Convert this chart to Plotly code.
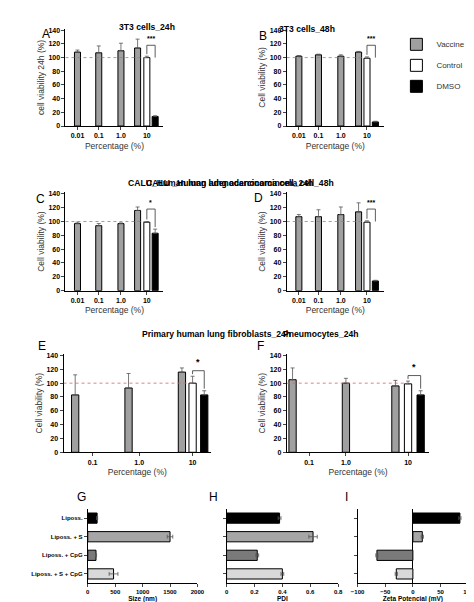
import plotly.graph_objects as go

W, H = 474, 602
FONT = "Liberation Sans"

# ---- viability panels data ----
panels = {
 "A": dict(title="3T3 cells_24h", ytitle="cell viability 24h (%)",
           ticks=["0.01", "0.1", "1.0", "10"],
           vac=[108, 107, 110, 114], vac_err=[3, 10, 11, 13],
           ctl=100, ctl_err=2, dmso=14, dmso_err=1, sig="***"),
 "B": dict(title="3T3 cells_48h", ytitle="Cell viability (%)",
           ticks=["0.01", "0.1", "1.0", "10"],
           vac=[102, 104, 102, 108], vac_err=[1, 1, 2, 1],
           ctl=99, ctl_err=2, dmso=6, dmso_err=1, sig="***"),
 "C": dict(title="CALU_Human lung adenocarcinoma cell_24h", ytitle="Cell viability (%)",
           ticks=["0.01", "0.1", "1.0", "10"],
           vac=[97, 94, 97, 116], vac_err=[2, 3, 1, 5],
           ctl=99, ctl_err=1, dmso=83, dmso_err=6, sig="*"),
 "D": dict(title="CALU _Human lung adenocarcinoma cell_48h", ytitle="Cell viability (%)",
           ticks=["0.01", "0.1", "1.0", "10"],
           vac=[107, 107, 110, 114], vac_err=[3, 10, 11, 13],
           ctl=99, ctl_err=2, dmso=14, dmso_err=1, sig="***"),
 "E": dict(title="Primary human lung fibroblasts_24h", ytitle="Cell viability (%)",
           ticks=["0.1", "1.0", "10"],
           vac=[83, 93, 116], vac_err=[29, 21, 6],
           ctl=100, ctl_err=10, dmso=83, dmso_err=6, sig="*"),
 "F": dict(title="Pneumocytes_24h", ytitle="Cell viability (%)",
           ticks=["0.1", "1.0", "10"],
           vac=[105, 100, 96], vac_err=[17, 7, 8],
           ctl=99, ctl_err=4, dmso=83, dmso_err=6, sig="*"),
}

# ---- characterization data ----
formulations = ["Liposs.", "Liposs. + S", "Liposs. + CpG", "Liposs. + S + CpG"]
size_nm = [170, 1500, 150, 470]
size_err = [10, 50, 10, 80]
pdi = [0.38, 0.62, 0.22, 0.40]
pdi_err = [0.01, 0.03, 0.01, 0.01]
zeta = [85, 17, -65, -30]
zeta_err = [2, 2, 2, 2]
form_colors = ["#000000", "#a6a6a6", "#7a7a7a", "#d9d9d9"]

geom = {
 "A": dict(box=(52, 153, 19, 117), tickpos=[63, 86, 110, 138], vacpos=[63, 86, 110, 128], ctl=138, dm=147, xr=(50, 156)),
 "B": dict(box=(280, 380, 19, 117), tickpos=[291, 312, 336, 364], vacpos=[291, 312, 336, 355], ctl=364, dm=373, xr=(278, 382)),
 "C": dict(box=(52, 153, 184, 283), tickpos=[63, 86, 110, 138], vacpos=[63, 86, 110, 128], ctl=138, dm=147, xr=(50, 156)),
 "D": dict(box=(280, 380, 184, 283), tickpos=[291, 312, 336, 364], vacpos=[291, 312, 336, 355], ctl=364, dm=373, xr=(278, 382)),
 "E": dict(box=(50, 202, 347, 446), tickpos=[80, 128, 183], vacpos=[62, 117, 172], ctl=183, dm=195, xr=(50, 202)),
 "F": dict(box=(280, 427, 347, 446), tickpos=[303, 341, 405], vacpos=[286, 341, 392], ctl=405, dm=418, xr=(280, 427)),
}

fig = go.Figure()
shapes, annos = [], []
def px2x(p): return p / W
def px2y(p): return 1 - p / H

for i, (k, p) in enumerate(panels.items()):
    g = geom[k]
    n = i + 1
    xa, ya = f"x{n}", f"y{n}"
    xl, yl = f"xaxis{n}", f"yaxis{n}"
    x0, x1, yt, yb = g["box"]
    bw = 6.5 if k in "ABCD" else 7.5
    showleg = (k == "B")
    fig.add_trace(go.Bar(x=g["vacpos"], y=p["vac"], width=bw, name="Vaccine", marker=dict(color="#a0a0a0", line=dict(color="black", width=1)),
                         error_y=dict(type="data", array=p["vac_err"], arrayminus=[0]*len(p["vac"]), color="#555", thickness=0.8, width=2),
                         xaxis=xa, yaxis=ya, showlegend=showleg, legendgroup="v"))
    fig.add_trace(go.Bar(x=[g["ctl"]], y=[p["ctl"]], width=bw, name="Control", marker=dict(color="white", line=dict(color="black", width=1)),
                         error_y=dict(type="data", array=[p["ctl_err"]], arrayminus=[0], color="#555", thickness=0.8, width=2),
                         xaxis=xa, yaxis=ya, showlegend=showleg, legendgroup="c"))
    fig.add_trace(go.Bar(x=[g["dm"]], y=[p["dmso"]], width=bw, name="DMSO", marker=dict(color="black", line=dict(color="black", width=1)),
                         error_y=dict(type="data", array=[p["dmso_err"]], arrayminus=[0], color="#555", thickness=0.8, width=2),
                         xaxis=xa, yaxis=ya, showlegend=showleg, legendgroup="d"))
    fig.layout[xl] = dict(domain=[px2x(x0), px2x(x1)], range=list(g["xr"]), tickvals=g["tickpos"], ticktext=p["ticks"],
                          anchor=ya, showline=True, linecolor="black", ticks="outside", ticklen=3, showgrid=False, zeroline=False,
                          tickfont=dict(size=7, family=FONT, color="black", weight="bold"),
                          title=dict(text="Percentage (%)", font=dict(size=8.5, family=FONT, color="#333"), standoff=4))
    fig.layout[yl] = dict(domain=[px2y(yb), px2y(yt)], range=[0, 142], tickvals=[0, 20, 40, 60, 80, 100, 120, 140],
                          anchor=xa, showline=True, linecolor="black", ticks="outside", ticklen=3, showgrid=False, zeroline=False,
                          tickfont=dict(size=7, family=FONT, color="black", weight="bold"),
                          title=dict(text=p["ytitle"], font=dict(size=8.5, family=FONT, color="#333"), standoff=2))
    shapes.append(dict(type="line", xref=xa, yref=ya, x0=g["xr"][0], x1=g["ctl"], y0=100, y1=100,
                       line=dict(color="#e06060", width=0.8, dash="dot")))
    top = max(p["ctl"] + p["ctl_err"], 100) + 8 if k in "EF" else 118
    shapes.append(dict(type="path", xref=xa, yref=ya,
                       path=f"M {g['ctl']},{p['ctl']+p['ctl_err']+3} L {g['ctl']},{top} L {g['dm']},{top} L {g['dm']},{p['dmso']+p['dmso_err']+3 if k in 'CEF' else 100}",
                       line=dict(color="#333", width=0.8)))
    annos.append(dict(xref=xa, yref=ya, x=(g["ctl"] + g["dm"]) / 2, y=top + 2, text=p["sig"], showarrow=False,
                      yanchor="bottom", font=dict(size=9 if k in "EF" else 7, family=FONT, color="black", weight="bold")))
    tx = {"A": 105, "B": 332, "C": 114, "D": 331, "E": 129, "F": 355}[k]
    ty = {"A": 10, "B": 12, "C": 167, "D": 167, "E": 327, "F": 327}[k]
    annos.append(dict(xref="paper", yref="paper", x=px2x(tx), y=px2y(ty), text=p["title"], showarrow=False,
                      font=dict(size=8.6, family=FONT, color="black", weight="bold")))
    lx = {"A": 26, "B": 256, "C": 20, "D": 251, "E": 22, "F": 253}[k]
    ly = {"A": 15, "B": 17, "C": 182, "D": 180, "E": 339, "F": 339}[k]
    annos.append(dict(xref="paper", yref="paper", x=px2x(lx), y=px2y(ly), text=k, showarrow=False,
                      font=dict(size=12, family=FONT, color="black")))

char = [("G", size_nm, size_err, (75, 188), [0, 2000], [0, 500, 1000, 1500, 2000], "Size (nm)", True),
        ("H", pdi, pdi_err, (218, 333), [0, 0.8], [0, 0.2, 0.4, 0.6, 0.8], "PDI", False),
        ("I", zeta, zeta_err, (353, 467), [-100, 100], [-100, -50, 0, 50, 100], "Zeta Potencial (mV)", False)]
for j, (k, vals, errs, (x0, x1), xr, xt, xtitle, showcat) in enumerate(char):
    n = 7 + j
    xa, ya = f"x{n}", f"y{n}"
    fig.add_trace(go.Bar(y=formulations, x=vals, orientation="h", width=0.55,
                         marker=dict(color=form_colors, line=dict(color="black", width=1)),
                         error_x=dict(type="data", array=errs, color="#555", thickness=0.8, width=2),
                         xaxis=xa, yaxis=ya, showlegend=False))
    fig.layout[f"xaxis{n}"] = dict(domain=[px2x(x0), px2x(x1)], range=xr, tickvals=xt, anchor=ya,
                                   showline=True, linecolor="black", ticks="outside", ticklen=3, showgrid=False,
                                   zeroline=(k == "I"), zerolinecolor="black", zerolinewidth=1,
                                   tickfont=dict(size=6, family=FONT, color="black", weight="bold"),
                                   title=dict(text=xtitle, font=dict(size=6.5, family=FONT, color="black", weight="bold"), standoff=2))
    fig.layout[f"yaxis{n}"] = dict(domain=[px2y(578), px2y(503)], categoryorder="array", categoryarray=formulations[::-1],
                                   anchor=xa, showline=True, linecolor="black", ticks="outside", ticklen=3,
                                   showticklabels=showcat, showgrid=False, zeroline=False,
                                   tickfont=dict(size=6, family=FONT, color="black", weight="bold"))
    annos.append(dict(xref="paper", yref="paper", x=px2x({"G": 62, "H": 205, "I": 345}[k]), y=px2y(500), text=k,
                      showarrow=False, font=dict(size=12, family=FONT, color="black")))

fig.update_layout(width=W, height=H, margin=dict(l=0, r=0, t=0, b=0), plot_bgcolor="white", paper_bgcolor="white",
                  barmode="overlay", shapes=shapes, annotations=annos,
                  legend=dict(x=px2x(393), y=px2y(20), xanchor="left", yanchor="top", bgcolor="rgba(0,0,0,0)",
                              font=dict(size=8, family=FONT, color="#333"), tracegroupgap=2, itemwidth=30))
fig.write_html("out.html")
